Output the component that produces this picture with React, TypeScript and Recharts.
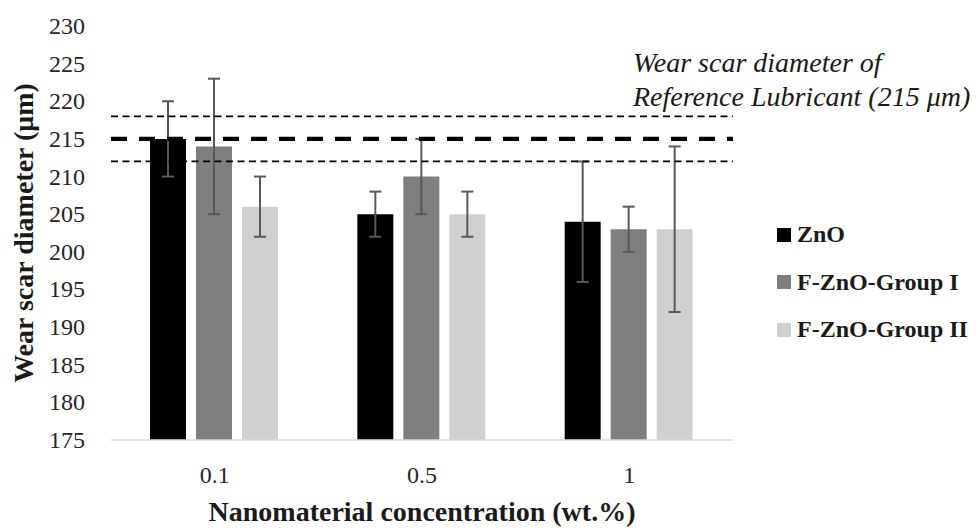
import React from 'react';
import {
  BarChart,
  Bar,
  XAxis,
  YAxis,
  ErrorBar,
  ReferenceLine,
  Legend,
  Label,
} from 'recharts';

// Wear scar diameter (µm) per nanomaterial concentration
const concentrations = ['0.1', '0.5', '1'];
const zno = [215, 205, 204];
const groupI = [214, 210, 203];
const groupII = [206, 205, 203];
const znoErr = [5, 3, 8];
const groupIErr = [9, 5, 3];
const groupIIErr = [4, 3, 11];

const yTicks = [175, 180, 185, 190, 195, 200, 205, 210, 215, 220, 225, 230];

// Reference lubricant wear scar diameter and its spread
const referenceWsd = 215;
const referenceBand = [212, 218];

const seriesNames = ['ZnO', 'F-ZnO-Group I', 'F-ZnO-Group II'];
const seriesColors = ['#000000', '#7f7f7f', '#d0d0d0'];

const data = concentrations.map((c, i) => ({
  concentration: c,
  zno: zno[i],
  groupI: groupI[i],
  groupII: groupII[i],
  znoErr: znoErr[i],
  groupIErr: groupIErr[i],
  groupIIErr: groupIIErr[i],
}));

const FONT = '"Liberation Serif", "Times New Roman", serif';
const ERR_COLOR = '#595959';
const TEXT_COLOR = '#1a1a1a';

const XTick = (props: any) => {
  const { x, y, payload } = props;
  return (
    <text
      x={x}
      y={y + 16}
      textAnchor="middle"
      fontFamily={FONT}
      fontSize={24}
      fill="#262626"
    >
      {payload.value}
    </text>
  );
};

const YTick = (props: any) => {
  const { x, y, payload } = props;
  return (
    <text
      x={x}
      y={y + 8}
      textAnchor="end"
      fontFamily={FONT}
      fontSize={24}
      fill="#262626"
    >
      {payload.value}
    </text>
  );
};

const YAxisTitle = (props: any) => {
  const vb = props.viewBox || {};
  const cx = vb.x + 33;
  const cy = vb.y + vb.height / 2;
  return (
    <text
      x={cx}
      y={cy}
      transform={`rotate(-90 ${cx} ${cy})`}
      textAnchor="middle"
      fontFamily={FONT}
      fontWeight="bold"
      fontSize={28}
      fill={TEXT_COLOR}
    >
      Wear scar diameter (μm)
    </text>
  );
};

const XAxisTitle = (props: any) => {
  const vb = props.viewBox || {};
  return (
    <text
      x={vb.x + vb.width / 2}
      y={vb.y + 81}
      textAnchor="middle"
      fontFamily={FONT}
      fontWeight="bold"
      fontSize={28}
      fill={TEXT_COLOR}
    >
      Nanomaterial concentration (wt.%)
    </text>
  );
};

const ReferenceNote = (props: any) => {
  const vb = props.viewBox || {};
  const x = vb.x + vb.width - 100;
  const y = vb.y;
  return (
    <text fontFamily={FONT} fontStyle="italic" fontSize={28} fill={TEXT_COLOR}>
      <tspan x={x} y={y - 44}>Wear scar diameter of</tspan>
      <tspan x={x} y={y - 10}>Reference Lubricant (215 μm)</tspan>
    </text>
  );
};

const LegendContent = () => (
  <div
    style={{
      fontFamily: FONT,
      fontWeight: 'bold',
      fontSize: 24,
      color: TEXT_COLOR,
      whiteSpace: 'nowrap',
    }}
  >
    {seriesNames.map((name, i) => (
      <div key={name} style={{ display: 'flex', alignItems: 'center', height: 47.5 }}>
        <span
          style={{
            display: 'inline-block',
            flexShrink: 0,
            width: 14,
            height: 14,
            background: seriesColors[i],
            marginRight: 6,
          }}
        />
        <span style={{ flexShrink: 0 }}>{name}</span>
      </div>
    ))}
  </div>
);

export default function App() {
  return (
    <div style={{ position: 'fixed', left: 0, top: 0, width: 976, height: 529, background: '#fff' }}>
      <BarChart
        width={976}
        height={529}
        data={data}
        margin={{ top: 26, right: 243, bottom: 0, left: 0 }}
        barCategoryGap={39}
        barGap={10}
      >
        <XAxis
          dataKey="concentration"
          height={89}
          tickLine={false}
          tickSize={0}
          tickMargin={27}
          axisLine={{ stroke: '#d9d9d9', strokeWidth: 1.5 }}
          tick={XTick}
        >
          <Label content={XAxisTitle} />
        </XAxis>
        <YAxis
          width={111}
          domain={[175, 230]}
          ticks={yTicks}
          allowDataOverflow
          axisLine={false}
          tickLine={false}
          tickSize={0}
          tickMargin={26}
          tick={YTick}
        >
          <Label content={YAxisTitle} />
        </YAxis>
        <Legend
          content={LegendContent}
          wrapperStyle={{
            position: 'absolute',
            left: 777,
            top: 211,
            width: 0,
            height: 0,
            overflow: 'visible',
          }}
        />
        <Bar dataKey="zno" name={seriesNames[0]} fill={seriesColors[0]} isAnimationActive={false}>
          <ErrorBar dataKey="znoErr" width={6} stroke={ERR_COLOR} strokeWidth={2} direction="y" />
        </Bar>
        <Bar dataKey="groupI" name={seriesNames[1]} fill={seriesColors[1]} isAnimationActive={false}>
          <ErrorBar dataKey="groupIErr" width={6} stroke={ERR_COLOR} strokeWidth={2} direction="y" />
        </Bar>
        <Bar dataKey="groupII" name={seriesNames[2]} fill={seriesColors[2]} isAnimationActive={false}>
          <ErrorBar dataKey="groupIIErr" width={6} stroke={ERR_COLOR} strokeWidth={2} direction="y" />
        </Bar>
        <ReferenceLine y={referenceBand[1]} stroke="#000" strokeWidth={1.75} strokeDasharray="7 4.5">
          <Label content={ReferenceNote} />
        </ReferenceLine>
        <ReferenceLine y={referenceWsd} stroke="#000" strokeWidth={4.3} strokeDasharray="16 12" />
        <ReferenceLine y={referenceBand[0]} stroke="#000" strokeWidth={1.75} strokeDasharray="7 4.5" />
      </BarChart>
    </div>
  );
}
